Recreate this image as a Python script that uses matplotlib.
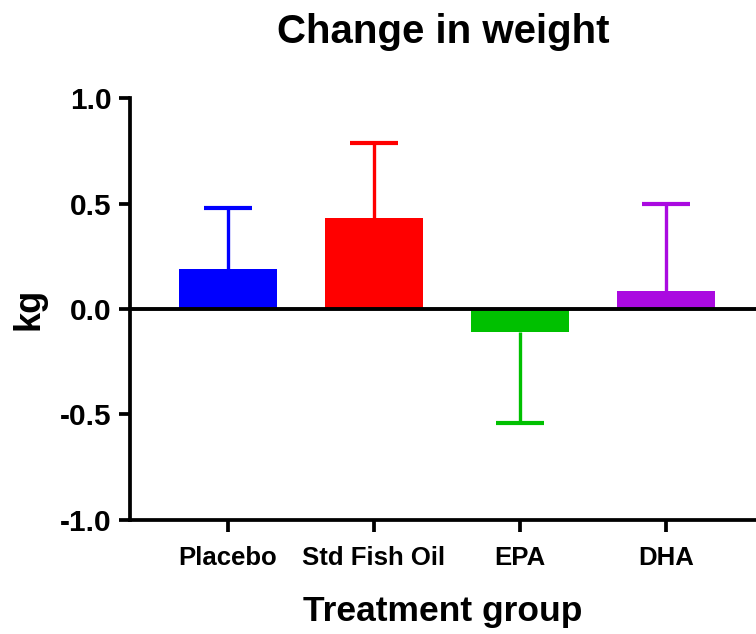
import matplotlib
matplotlib.use("Agg")
import matplotlib.pyplot as plt
import numpy as np

# mean change in weight (kg) and error (one-sided, away from zero)
groups = ["Placebo", "Std Fish Oil", "EPA", "DHA"]
means = [0.19, 0.43, -0.11, 0.085]
errors = [0.29, 0.36, 0.43, 0.415]
colors = ["#0000FF", "#FF0000", "#00C000", "#AA0AE0"]
yticks = [-1.0, -0.5, 0.0, 0.5, 1.0]

plt.rcParams["font.family"] = ["Liberation Sans", "DejaVu Sans"]
plt.rcParams["font.weight"] = "bold"
plt.rcParams["axes.unicode_minus"] = False

fig = plt.figure(figsize=(7.56, 6.34), dpi=100)
ax = fig.add_axes([0.172, 0.180, 0.828, 0.665])

x_pos = np.arange(len(groups))
ax.bar(x_pos, means, width=0.67, color=colors, zorder=3)

# error bars only on the side away from zero
for x, m, e, c in zip(x_pos, means, errors, colors):
    end = m + e if m >= 0 else m - e
    ax.vlines(x, m, end, color=c, lw=2.4, zorder=2)
    ax.plot(x, end, marker="_", ms=35, mew=3, color=c, zorder=2)

ax.axhline(0, color="black", lw=2.8, zorder=4)

ax.set_xlim(-0.671, 3.616)
ax.set_ylim(-1.0, 1.0)
ax.set_yticks(yticks)
ax.set_yticklabels([f"{v:.1f}" for v in yticks])
ax.set_xticks(x_pos)
ax.set_xticklabels(groups)

for side in ["top", "right"]:
    ax.spines[side].set_visible(False)
for side in ["left", "bottom"]:
    ax.spines[side].set_linewidth(2.7)

ax.tick_params(axis="y", length=8, width=2.7, labelsize=21.5, pad=5)
ax.tick_params(axis="x", length=8.5, width=2.7, labelsize=18.5, pad=10)
for lbl in ax.get_xticklabels() + ax.get_yticklabels():
    lbl.set_fontweight("bold")

ax.set_title("Change in weight", fontsize=29, fontweight="bold", pad=40)
ax.set_ylabel("kg", fontsize=26, fontweight="bold", labelpad=10)
ax.set_xlabel("Treatment group", fontsize=25.5, fontweight="bold", labelpad=18)

plt.savefig("out.png", dpi=100)
